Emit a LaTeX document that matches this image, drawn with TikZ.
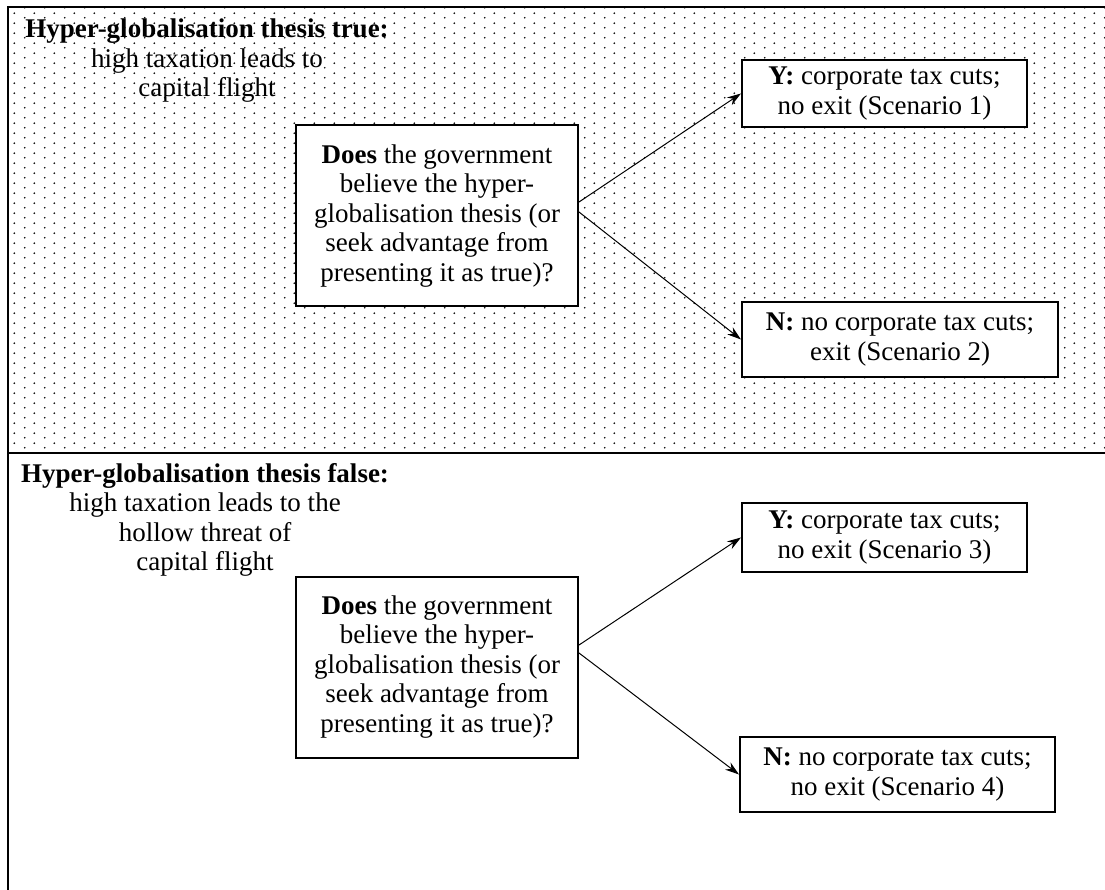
\documentclass[tikz,border=0pt]{standalone}
\usepackage{fontspec}
\setmainfont{Liberation Serif}
\usetikzlibrary{arrows.meta,patterns}
\pgfdeclarepatternformonly{paneldots}{\pgfqpoint{0pt}{0pt}}{\pgfqpoint{20pt}{10pt}}{\pgfqpoint{20pt}{10pt}}{%
  \pgfpathcircle{\pgfqpoint{5pt}{2.5pt}}{1pt}%
  \pgfpathcircle{\pgfqpoint{15pt}{7.5pt}}{1pt}%
  \pgfusepath{fill}}

\begin{document}
\begin{tikzpicture}[x=1pt,y=-1pt,
    txt/.style={font=\fontsize{27}{29.5}\selectfont,align=center,inner sep=0pt},
    question/.style={txt,draw,line width=2pt,fill=white,minimum width=282pt,minimum height=181pt},
    answer/.style={txt,draw,line width=2pt,fill=white},
    arrow/.style={-{Stealth[length=14pt,width=9pt]},line width=1pt},
    frame/.style={line width=2.5pt}
]

\useasboundingbox (0,0) rectangle (1105,890);

% Dotted panel
\fill[pattern=paneldots] (8,7) rectangle (1105,453);

% Panel borders
\draw[frame] (1105,7) -- (8,7) -- (8,890);
\draw[frame] (8,453) -- (1105,453);

% Panel titles
\node[txt] (ttrue) at (207,61) {\textbf{Hyper-globalisation thesis true:}\\high taxation leads to\\capital flight};
\node[txt] (tfalse) at (205,520) {\textbf{Hyper-globalisation thesis false:}\\high taxation leads to the\\hollow threat of\\capital flight};

% Questions
\node[question] (q1) at (437,216) {\textbf{Does} the government\\believe the hyper-\\globalisation thesis (or\\seek advantage from\\presenting it as true)?};
\node[question] (q2) at (437,667) {\textbf{Does} the government\\believe the hyper-\\globalisation thesis (or\\seek advantage from\\presenting it as true)?};

% Answers
\node[answer,minimum width=285pt,minimum height=67pt] (y1) at (884.5,93.5) {\textbf{Y:} corporate tax cuts;\\no exit (Scenario 1)};
\node[answer,minimum width=316pt,minimum height=75pt] (n1) at (900,339.5) {\textbf{N:} no corporate tax cuts;\\exit (Scenario 2)};
\node[answer,minimum width=285pt,minimum height=69pt] (y3) at (884.5,537.5) {\textbf{Y:} corporate tax cuts;\\no exit (Scenario 3)};
\node[answer,minimum width=315pt,minimum height=75pt] (n4) at (897.5,774.5) {\textbf{N:} no corporate tax cuts;\\no exit (Scenario 4)};

% Arrows
\draw[arrow] ([yshift=14pt]q1.east) -- (y1.west);
\draw[arrow] ([yshift=4pt]q1.east) -- (n1.west);
\draw[arrow] ([yshift=22pt]q2.east) -- (y3.west);
\draw[arrow] ([yshift=14pt]q2.east) -- (n4.west);

\end{tikzpicture}
\end{document}
